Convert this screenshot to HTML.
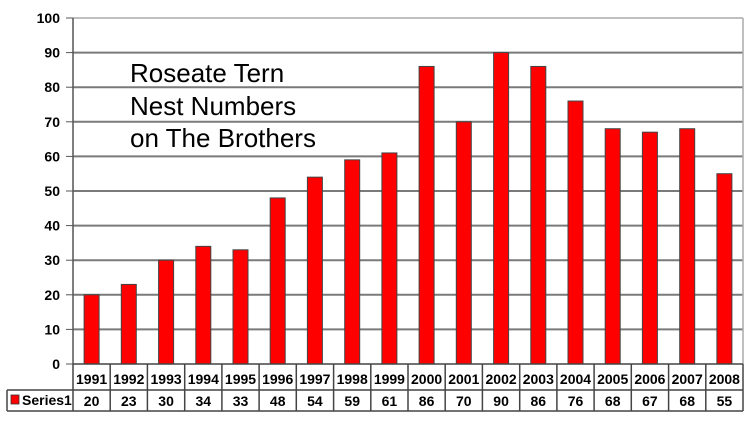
<!DOCTYPE html><html><head><style>body{margin:0;background:#fff}</style></head><body>
<svg width="750" height="418" xmlns="http://www.w3.org/2000/svg" font-family="Liberation Sans, Arial, sans-serif">
<rect width="750" height="418" fill="#fff"/>
<g stroke="#7a7a7a" stroke-width="2">
<line x1="73" x2="743" y1="329.4" y2="329.4"/><line x1="73" x2="743" y1="294.8" y2="294.8"/><line x1="73" x2="743" y1="260.2" y2="260.2"/><line x1="73" x2="743" y1="225.6" y2="225.6"/><line x1="73" x2="743" y1="191" y2="191"/><line x1="73" x2="743" y1="156.4" y2="156.4"/><line x1="73" x2="743" y1="121.8" y2="121.8"/><line x1="73" x2="743" y1="87.2" y2="87.2"/><line x1="73" x2="743" y1="52.6" y2="52.6"/>
</g>
<line x1="73" x2="743" y1="18" y2="18" stroke="#aaa" stroke-width="1.5"/>
<line x1="743" x2="743" y1="18" y2="364" stroke="#aaa" stroke-width="1.5"/>
<line x1="73" x2="73" y1="18" y2="364" stroke="#555" stroke-width="1.5"/>
<g stroke="#555"><line x1="66" x2="73" y1="364" y2="364"/><line x1="66" x2="73" y1="329.4" y2="329.4"/><line x1="66" x2="73" y1="294.8" y2="294.8"/><line x1="66" x2="73" y1="260.2" y2="260.2"/><line x1="66" x2="73" y1="225.6" y2="225.6"/><line x1="66" x2="73" y1="191" y2="191"/><line x1="66" x2="73" y1="156.4" y2="156.4"/><line x1="66" x2="73" y1="121.8" y2="121.8"/><line x1="66" x2="73" y1="87.2" y2="87.2"/><line x1="66" x2="73" y1="52.6" y2="52.6"/><line x1="66" x2="73" y1="18" y2="18"/></g>
<g font-size="14" font-weight="bold" text-anchor="end">
<text x="60" y="369">0</text><text x="60" y="334.4">10</text><text x="60" y="299.8">20</text><text x="60" y="265.2">30</text><text x="60" y="230.6">40</text><text x="60" y="196">50</text><text x="60" y="161.4">60</text><text x="60" y="126.8">70</text><text x="60" y="92.2">80</text><text x="60" y="57.6">90</text><text x="60" y="23">100</text>
</g>
<g fill="#ff0000" stroke="#444" stroke-width="1">
<rect x="84.1" y="294.8" width="15" height="69.2"/>
<rect x="121.3" y="284.42" width="15" height="79.58"/>
<rect x="158.6" y="260.2" width="15" height="103.8"/>
<rect x="195.8" y="246.36" width="15" height="117.64"/>
<rect x="233" y="249.82" width="15" height="114.18"/>
<rect x="270.2" y="197.92" width="15" height="166.08"/>
<rect x="307.4" y="177.16" width="15" height="186.84"/>
<rect x="344.7" y="159.86" width="15" height="204.14"/>
<rect x="381.9" y="152.94" width="15" height="211.06"/>
<rect x="419.1" y="66.44" width="15" height="297.56"/>
<rect x="456.3" y="121.8" width="15" height="242.2"/>
<rect x="493.6" y="52.6" width="15" height="311.4"/>
<rect x="530.8" y="66.44" width="15" height="297.56"/>
<rect x="568" y="101.04" width="15" height="262.96"/>
<rect x="605.2" y="128.72" width="15" height="235.28"/>
<rect x="642.4" y="132.18" width="15" height="231.82"/>
<rect x="679.7" y="128.72" width="15" height="235.28"/>
<rect x="716.9" y="173.7" width="15" height="190.3"/>
</g>
<g stroke="#444" stroke-width="1.5">
<line x1="73" x2="743" y1="364" y2="364"/><line x1="7" x2="743" y1="390" y2="390"/><line x1="7" x2="743" y1="411" y2="411"/><line x1="7" x2="7" y1="390" y2="411"/>
<line x1="73" x2="73" y1="364" y2="411"/><line x1="110.2" x2="110.2" y1="364" y2="411"/><line x1="147.4" x2="147.4" y1="364" y2="411"/><line x1="184.7" x2="184.7" y1="364" y2="411"/><line x1="221.9" x2="221.9" y1="364" y2="411"/><line x1="259.1" x2="259.1" y1="364" y2="411"/><line x1="296.3" x2="296.3" y1="364" y2="411"/><line x1="333.6" x2="333.6" y1="364" y2="411"/><line x1="370.8" x2="370.8" y1="364" y2="411"/><line x1="408" x2="408" y1="364" y2="411"/><line x1="445.2" x2="445.2" y1="364" y2="411"/><line x1="482.4" x2="482.4" y1="364" y2="411"/><line x1="519.7" x2="519.7" y1="364" y2="411"/><line x1="556.9" x2="556.9" y1="364" y2="411"/><line x1="594.1" x2="594.1" y1="364" y2="411"/><line x1="631.3" x2="631.3" y1="364" y2="411"/><line x1="668.6" x2="668.6" y1="364" y2="411"/><line x1="705.8" x2="705.8" y1="364" y2="411"/><line x1="743" x2="743" y1="364" y2="411"/>
</g>
<g font-size="14" font-weight="bold" text-anchor="middle">
<text x="91.6" y="384">1991</text><text x="128.8" y="384">1992</text><text x="166.1" y="384">1993</text><text x="203.3" y="384">1994</text><text x="240.5" y="384">1995</text><text x="277.7" y="384">1996</text><text x="314.9" y="384">1997</text><text x="352.2" y="384">1998</text><text x="389.4" y="384">1999</text><text x="426.6" y="384">2000</text><text x="463.8" y="384">2001</text><text x="501.1" y="384">2002</text><text x="538.3" y="384">2003</text><text x="575.5" y="384">2004</text><text x="612.7" y="384">2005</text><text x="649.9" y="384">2006</text><text x="687.2" y="384">2007</text><text x="724.4" y="384">2008</text>
<text x="91.6" y="406">20</text><text x="128.8" y="406">23</text><text x="166.1" y="406">30</text><text x="203.3" y="406">34</text><text x="240.5" y="406">33</text><text x="277.7" y="406">48</text><text x="314.9" y="406">54</text><text x="352.2" y="406">59</text><text x="389.4" y="406">61</text><text x="426.6" y="406">86</text><text x="463.8" y="406">70</text><text x="501.1" y="406">90</text><text x="538.3" y="406">86</text><text x="575.5" y="406">76</text><text x="612.7" y="406">68</text><text x="649.9" y="406">67</text><text x="687.2" y="406">68</text><text x="724.4" y="406">55</text>
</g>
<rect x="11" y="395" width="8" height="9" fill="#f00" stroke="#333" stroke-width="0.8"/>
<text x="22" y="405" font-size="14" font-weight="bold">Series1</text>
<text font-size="26" fill="#000"><tspan x="130" y="82">Roseate Tern</tspan><tspan x="130" y="115">Nest Numbers</tspan><tspan x="130" y="147">on The Brothers</tspan></text>
</svg></body></html>
